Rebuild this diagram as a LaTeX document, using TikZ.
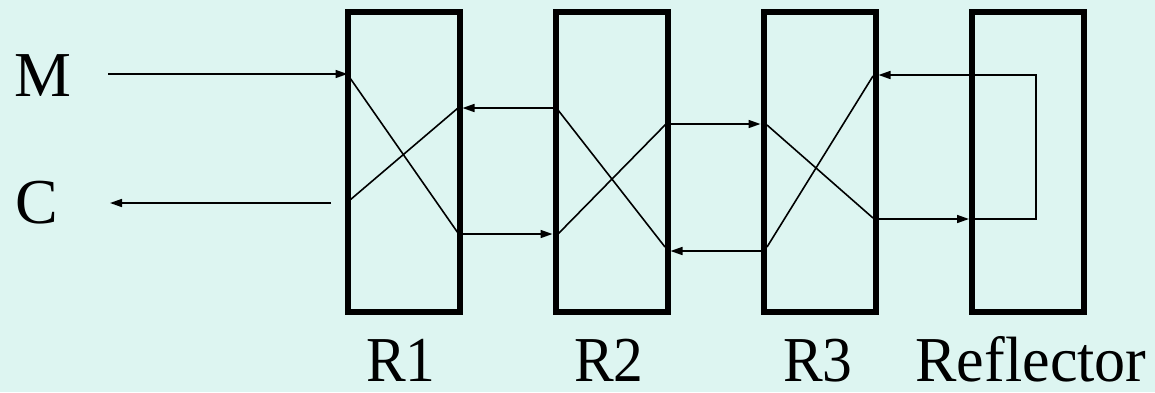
\documentclass[tikz,border=0pt]{standalone}
\usepackage{fontspec}
\setmainfont{Liberation Serif}
\usetikzlibrary{arrows.meta}
\definecolor{bgc}{RGB}{221,245,241}
\tikzset{
  rotor/.style={draw, line width=6pt, minimum width=112pt, minimum height=300pt, inner sep=0pt, outer sep=0pt},
  wire/.style={line width=1.6pt},
  arr/.style={wire, -{Triangle[length=12pt,width=8pt]}},
  lbl/.style={font=\fontsize{64}{70}\selectfont, inner sep=0pt},
}
\begin{document}
\begin{tikzpicture}[x=1pt,y=-1pt]
\fill[bgc] (0,0) rectangle (1155,392);
\useasboundingbox (0,0) rectangle (1155,392);
% rotors
\node[rotor] (R1) at (403.5,162) {};
\node[rotor] (R2) at (611.5,162) {};
\node[rotor] (R3) at (819.5,162) {};
\node[rotor] (RF) at (1028,162) {};
% labels
\node[lbl, anchor=base west] (lM) at (14,96) {M};
\node[lbl, anchor=base west] (lC) at (15,223) {C};
\node[lbl, anchor=base, xscale=0.93] (l1) at (401,381) {R1};
\node[lbl, anchor=base, xscale=0.93] (l2) at (609,381) {R2};
\node[lbl, anchor=base, xscale=0.93] (l3) at (818,381) {R3};
\node[lbl, anchor=base, xscale=0.97] (lR) at (1031,381) {Reflector};
% free ends and points
\coordinate (mIn) at (108,74);
\coordinate (cOut) at (110,203);
\coordinate (cStart) at (331,203);
\coordinate (a1) at (350,78);  \coordinate (a2) at (458,233);
\coordinate (b1) at (350,200); \coordinate (b2) at (458,108);
\coordinate (c1) at (558,110); \coordinate (c2) at (665,247);
\coordinate (d1) at (558,234); \coordinate (d2) at (666,124);
\coordinate (e1) at (767,125); \coordinate (e2) at (873,218);
\coordinate (f1) at (767,247); \coordinate (f2) at (873,76);
\coordinate (loopA) at (1036,219);
\coordinate (loopB) at (1036,75);
% input / output
\draw[arr] (mIn) -- (mIn -| R1.west);
\draw[arr] (cStart) -- (cOut);
% internal wiring
\draw[wire] (a1) -- (a2);
\draw[wire] (b1) -- (b2);
\draw[wire] (c1) -- (c2);
\draw[wire] (d1) -- (d2);
\draw[wire] (e1) -- (e2);
\draw[wire] (f1) -- (f2);
% between rotors
\draw[arr] (R2.west |- b2) -- ([xshift=3pt]R1.east |- b2);
\draw[arr] (R1.east |- 0,234) -- ([xshift=-3pt]R2.west |- 0,234);
\draw[arr] (R2.east |- d2) -- ([xshift=-3pt]R3.west |- d2);
\draw[arr] (R3.west |- 0,251) -- ([xshift=3pt]R2.east |- 0,251);
% reflector
\draw[arr] (R3.east |- loopA) -- ([xshift=-3pt]RF.west |- loopA);
\draw[arr] (RF.west |- loopA) -- (loopA) -- (loopB) -- ([xshift=3pt]R3.east |- loopB);
\end{tikzpicture}
\end{document}
